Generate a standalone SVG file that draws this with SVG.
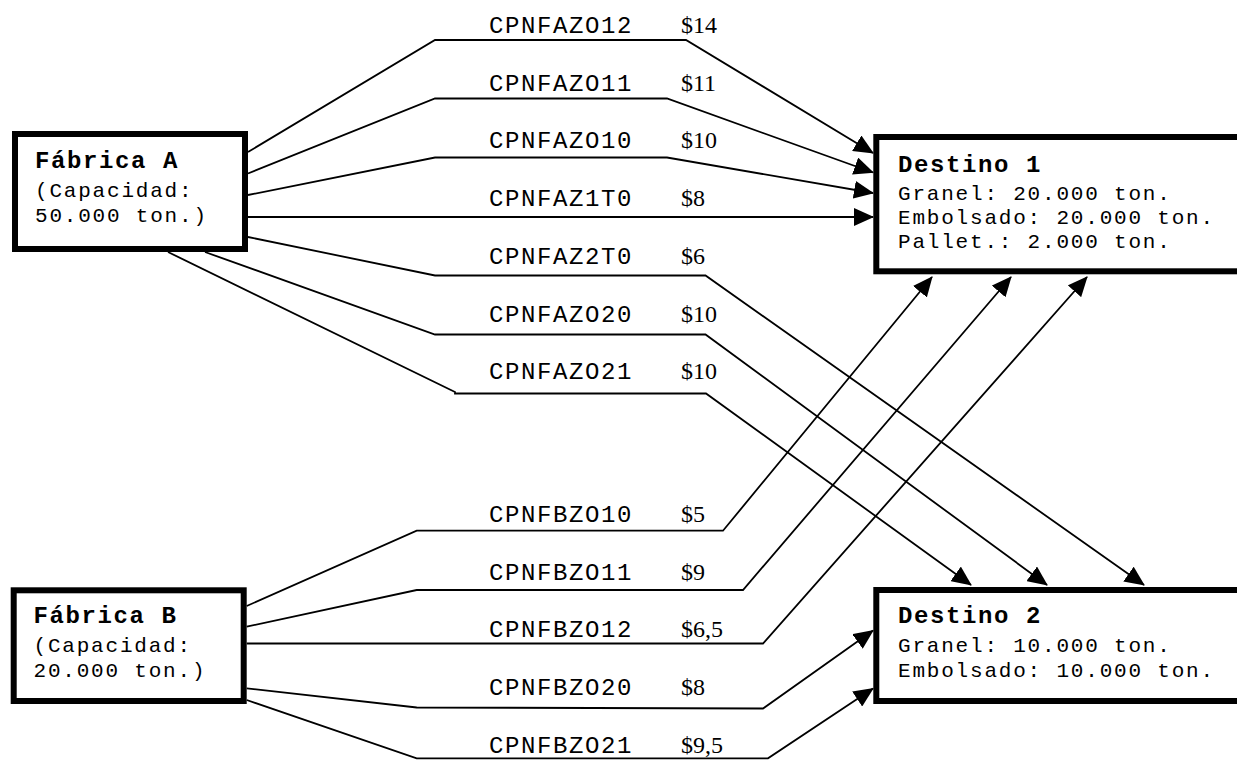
<svg xmlns="http://www.w3.org/2000/svg" width="1237" height="760" viewBox="0 0 1237 760">
<defs>
<style>
.box{fill:#fff;stroke:#000;stroke-width:6}
.t{font-family:"Liberation Mono","Courier New",monospace;font-size:24px;letter-spacing:1.6px;font-weight:bold;fill:#000}
.b{font-family:"Liberation Mono","Courier New",monospace;font-size:21px;letter-spacing:1.8px;fill:#000}
.l{font-family:"Liberation Mono","Courier New",monospace;font-size:24px;letter-spacing:1.6px;fill:#000}
.c{font-family:"Liberation Serif","Times New Roman",serif;font-size:24px;fill:#000}
.e{fill:none;stroke:#000;stroke-width:1.8}
.a{marker-end:url(#arr)}
</style>
<marker id="arr" markerUnits="userSpaceOnUse" markerWidth="20" markerHeight="18" refX="19" refY="9" orient="auto">
<path d="M0,0 L20,9 L0,18 z" fill="#000"/>
</marker>
</defs>
<rect width="1237" height="760" fill="#fff"/>
<g id="connectors">
<polyline class="e a" points="248,152 435,40 686,40 873,153"/>
<polyline class="e a" points="248,173.5 435,98.5 667,98.5 873,172.5"/>
<polyline class="e a" points="248,195 435,157.5 667,157.5 873,193"/>
<polyline class="e a" points="248,217 873,217"/>
<polyline class="e a" points="248,237 435,275.5 705.5,275.5 1144,585"/>
<polyline class="e a" points="205,252 435,334.5 705.5,334.5 1047,585"/>
<polyline class="e a" points="168,252 455,392 455,393.5 706,393.5 971,585"/>
<polyline class="e a" points="246.7,606 416.7,530.7 723,530.7 932,277"/>
<polyline class="e a" points="246.7,626.7 416.7,590 743,590 1011,277"/>
<polyline class="e a" points="246.7,643.5 763,643.5 1087,277"/>
<polyline class="e a" points="246.7,688.3 416.7,707.5 763,708.5 873,630.5"/>
<polyline class="e a" points="246.7,700 416.7,758.3 768,758.3 873,688.5"/>
</g>
<g id="labels">
<text class="l" x="489" y="32.7">CPNFAZO12</text><text class="c" x="681" y="32.7">$14</text>
<text class="l" x="489" y="90.5">CPNFAZO11</text><text class="c" x="681" y="90.5">$11</text>
<text class="l" x="489" y="148">CPNFAZO10</text><text class="c" x="681" y="148">$10</text>
<text class="l" x="489" y="206">CPNFAZ1T0</text><text class="c" x="681" y="206">$8</text>
<text class="l" x="489" y="264">CPNFAZ2T0</text><text class="c" x="681" y="264">$6</text>
<text class="l" x="489" y="322">CPNFAZO20</text><text class="c" x="681" y="322">$10</text>
<text class="l" x="489" y="378.5">CPNFAZO21</text><text class="c" x="681" y="378.5">$10</text>
<text class="l" x="489" y="521.7">CPNFBZO10</text><text class="c" x="681" y="521.7">$5</text>
<text class="l" x="489" y="580">CPNFBZO11</text><text class="c" x="681" y="580">$9</text>
<text class="l" x="489" y="637.3">CPNFBZO12</text><text class="c" x="681" y="637.3">$6,5</text>
<text class="l" x="489" y="695">CPNFBZO20</text><text class="c" x="681" y="695">$8</text>
<text class="l" x="489" y="753.3">CPNFBZO21</text><text class="c" x="681" y="753.3">$9,5</text>
</g>
<g id="fabricaA">
<rect class="box" x="15" y="134" width="230" height="115"/>
<text class="t" x="35" y="168.3">Fábrica A</text>
<text class="b" x="35" y="196.7">(Capacidad:</text>
<text class="b" x="35" y="221.7">50.000 ton.)</text>
</g>
<g id="fabricaB">
<rect class="box" x="13.7" y="590.3" width="230" height="110.7"/>
<text class="t" x="33.5" y="622.7">Fábrica B</text>
<text class="b" x="33.5" y="651.7">(Capacidad:</text>
<text class="b" x="33.5" y="676.7">20.000 ton.)</text>
</g>
<g id="destino1">
<rect class="box" x="876.3" y="137" width="400" height="134.3"/>
<text class="t" x="898" y="171.5">Destino 1</text>
<text class="b" x="898" y="200">Granel: 20.000 ton.</text>
<text class="b" x="898" y="224">Embolsado: 20.000 ton.</text>
<text class="b" x="898" y="248.3">Pallet.: 2.000 ton.</text>
</g>
<g id="destino2">
<rect class="box" x="876.3" y="590" width="400" height="111"/>
<text class="t" x="898" y="622.7">Destino 2</text>
<text class="b" x="898" y="651.7">Granel: 10.000 ton.</text>
<text class="b" x="898" y="676.7">Embolsado: 10.000 ton.</text>
</g>
</svg>
